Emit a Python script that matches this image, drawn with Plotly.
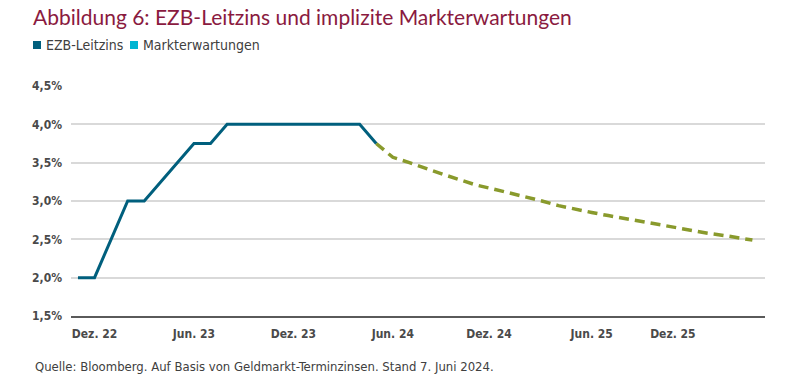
import plotly.graph_objects as go

# Month index 0 = Nov 2022
hist_month = list(range(0, 19))
hist_rate = [2.0, 2.0, 2.5, 3.0, 3.0, 3.25, 3.5, 3.75, 3.75,
             4.0, 4.0, 4.0, 4.0, 4.0, 4.0, 4.0, 4.0, 4.0, 3.75]

fc_month = [18, 19, 20, 21, 22, 23, 24, 25, 26, 27, 28, 29, 30, 31, 32,
            33, 34, 35, 36, 37, 38, 39, 40, 40.7]
fc_rate = [3.75, 3.57, 3.50, 3.42, 3.35, 3.28, 3.21, 3.16, 3.11, 3.06, 3.00,
           2.94, 2.89, 2.85, 2.81, 2.77, 2.74, 2.70, 2.66, 2.62, 2.58, 2.55,
           2.51, 2.49]

tick_pos = [1, 7, 13, 19, 24.8, 31, 35.9]
tick_text = ["Dez. 22", "Jun. 23", "Dez. 23", "Jun. 24", "Dez. 24", "Jun. 25", "Dez. 25"]
y_ticks = [1.5, 2.0, 2.5, 3.0, 3.5, 4.0, 4.5]

legend_names = ["EZB-Leitzins", "Markterwartungen"]
legend_colors = ["#005f7d", "#00b5d2"]

C_HIST = "#005f7d"
C_FC = "#899a2c"
NARROW = "DejaVu Sans Condensed, Liberation Sans Narrow, sans-serif"

fig = go.Figure()
fig.add_trace(go.Scatter(x=fc_month, y=fc_rate, mode="lines",
                         line=dict(color=C_FC, width=3.5, dash="10px,6px"),
                         showlegend=False, hoverinfo="skip"))
fig.add_trace(go.Scatter(x=hist_month, y=hist_rate, mode="lines",
                         line=dict(color=C_HIST, width=3),
                         showlegend=False, hoverinfo="skip"))

fig.update_layout(
    width=800, height=387,
    margin=dict(l=71, r=35, t=86, b=71),
    paper_bgcolor="white", plot_bgcolor="white",
    showlegend=False,
    title=dict(text="Abbildung 6: EZB-Leitzins und implizite Markterwartungen",
               x=33 / 800, xanchor="left", xref="container",
               y=1 - 18 / 387, yanchor="middle", yref="container",
               font=dict(family="Lato, Noto Sans, sans-serif", size=21, color="#8a1a40")),
)
fig.update_xaxes(range=[-0.42, 41.46], tickmode="array", tickvals=tick_pos, ticktext=tick_text,
                 showgrid=False, zeroline=False, showline=True, linecolor="#5a5a5a", linewidth=2,
                 ticks="", ticklabelstandoff=6,
                 tickfont=dict(family=NARROW, size=12, color="#4a4a4a", weight="bold"))
fig.update_yaxes(range=[1.5, 4.5], tickmode="array", tickvals=y_ticks,
                 ticktext=[f"{v:.1f}".replace(".", ",") + "%" for v in y_ticks],
                 showgrid=True, gridcolor="#d9d9d9", gridwidth=1.5, zeroline=False,
                 showline=False, ticks="", ticklabelstandoff=8,
                 tickfont=dict(family=NARROW, size=12, color="#4a4a4a", weight="bold"))

# Legend (manual, square swatches)
lx = [33, 130]
for i, (name, col) in enumerate(zip(legend_names, legend_colors)):
    fig.add_shape(type="rect", xref="paper", yref="paper",
                  x0=(lx[i] - 71) / 694, x1=(lx[i] + 8 - 71) / 694,
                  y0=(316 - 49) / 230, y1=(316 - 41) / 230,
                  fillcolor=col, line=dict(width=0))
    fig.add_annotation(text=name, xref="paper", yref="paper",
                       x=(lx[i] + 11 - 71) / 694, y=(316 - 45) / 230,
                       xanchor="left", yanchor="middle", showarrow=False,
                       font=dict(family=NARROW, size=14, color="#404040"))

fig.add_annotation(text="Quelle: Bloomberg. Auf Basis von Geldmarkt-Terminzinsen. Stand 7. Juni 2024.",
                   xref="paper", yref="paper", x=(33 - 71) / 694, y=-(366 - 316) / 230,
                   xanchor="left", yanchor="middle", showarrow=False,
                   font=dict(family=NARROW, size=13, color="#404040"))

# remove the default 8px page margin so the figure sits at the window's top-left corner
fig.write_html("out.html", config={"displayModeBar": False},
               post_script="document.body.style.margin='0';")
